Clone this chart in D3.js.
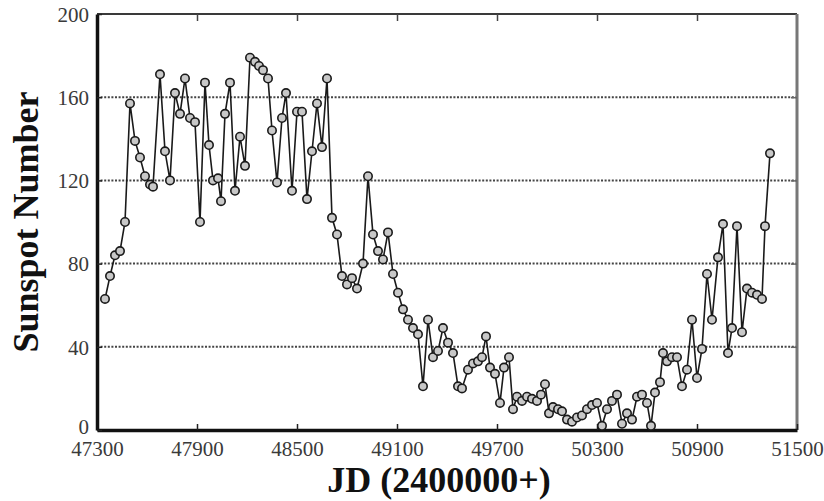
<!DOCTYPE html>
<html>
<head>
<meta charset="utf-8">
<script src="https://cdn.jsdelivr.net/npm/d3@7"></script>
<style>
  html, body { margin: 0; padding: 0; background: #fff; }
  svg { display: block; }
  .tick-label { font-family: "Liberation Serif", "DejaVu Serif", serif; font-size: 21px; fill: #3a3a3a; }
  .title { font-family: "Liberation Serif", "DejaVu Serif", serif; font-size: 36px; font-weight: bold; fill: #111; }
</style>
</head>
<body>
<div id="chart"></div>
<script>
// Julian dates (minus 2400000) and sunspot numbers
const jd = [
  47348, 47378, 47408, 47438, 47468, 47498, 47528, 47558, 47588, 47618,
  47636, 47678, 47708, 47738, 47768, 47798, 47828, 47858, 47888, 47918,
  47948, 47972, 47996, 48026, 48044, 48068, 48098, 48128, 48158, 48188,
  48218, 48248, 48272, 48296, 48326, 48350, 48380, 48410, 48434, 48470,
  48500, 48530, 48560, 48590, 48620, 48650, 48680, 48710, 48740, 48770,
  48800, 48830, 48860, 48896, 48926, 48956, 48986, 49016, 49046, 49076,
  49106, 49136, 49166, 49196, 49226, 49256, 49286, 49316, 49346, 49376,
  49406, 49436, 49466, 49490, 49526, 49556, 49586, 49610, 49634, 49658,
  49688, 49718, 49742, 49772, 49796, 49820, 49850, 49880, 49910, 49940,
  49964, 49988, 50012, 50036, 50066, 50090, 50120, 50150, 50180, 50210,
  50240, 50270, 50300, 50330, 50360, 50390, 50420, 50450, 50480, 50510,
  50540, 50570, 50600, 50624, 50648, 50678, 50696, 50720, 50750, 50780,
  50810, 50840, 50870, 50900, 50930, 50960, 50990, 51026, 51056, 51086,
  51110, 51140, 51170, 51200, 51230, 51260, 51290, 51308, 51338
];
const sunspots = [
  63, 74, 84, 86, 100, 157, 139, 131, 122, 118,
  117, 171, 134, 120, 162, 152, 169, 150, 148, 100,
  167, 137, 120, 121, 110, 152, 167, 115, 141, 127,
  179, 177, 175, 173, 169, 144, 119, 150, 162, 115,
  153, 153, 111, 134, 157, 136, 169, 102, 94, 74,
  70, 73, 68, 80, 122, 94, 86, 82, 95, 75,
  66, 58, 53, 49, 46, 21, 53, 35, 38, 49,
  42, 37, 21, 20, 29, 32, 33, 35, 45, 30,
  27, 13, 30, 35, 10, 16, 14, 16, 15, 14,
  17, 22, 8, 11, 10, 9, 5, 4, 6, 7,
  10, 12, 13, 2, 10, 14, 17, 3, 8, 5,
  16, 17, 13, 2, 18, 23, 37, 33, 35, 35,
  21, 29, 53, 25, 39, 75, 53, 83, 99, 37,
  49, 98, 47, 68, 66, 65, 63, 98, 133
];
const xTicks = [47300, 47900, 48500, 49100, 49700, 50300, 50900, 51500];
const yTicks = [0, 40, 80, 120, 160, 200];
const gridValues = [40, 80, 120, 160];

const width = 824, height = 501;
const margin = { top: 14, right: 27, bottom: 71, left: 97 };
const innerW = width - margin.left - margin.right;
const innerH = height - margin.top - margin.bottom;

const svg = d3.select('#chart').append('svg')
  .attr('width', width)
  .attr('height', height);

const g = svg.append('g').attr('transform', `translate(${margin.left},${margin.top})`);

const x = d3.scaleLinear().domain([47300, 51500]).range([0, innerW]);
const y = d3.scaleLinear().domain([0, 200]).range([innerH, 0]);

// dotted grid
g.append('g')
  .selectAll('line')
  .data(gridValues)
  .join('line')
  .attr('x1', 0)
  .attr('x2', innerW)
  .attr('y1', (d) => y(d))
  .attr('y2', (d) => y(d))
  .attr('stroke', '#444')
  .attr('stroke-width', 2)
  .attr('stroke-dasharray', '2,1.6');

// top and right frame (lighter)
g.append('line').attr('x1', 0).attr('x2', innerW).attr('y1', 0).attr('y2', 0)
  .attr('stroke', '#3a3a3a').attr('stroke-width', 2);
g.append('line').attr('x1', innerW).attr('x2', innerW).attr('y1', 0).attr('y2', innerH)
  .attr('stroke', '#777').attr('stroke-width', 3);

// axes with inward ticks
const bottomAxis = g.append('g')
  .attr('transform', `translate(0,${innerH})`)
  .call(d3.axisBottom(x).tickValues(xTicks).tickSize(-6).tickSizeOuter(0).tickPadding(12).tickFormat(d3.format('d')));
const topAxis = g.append('g')
  .call(d3.axisTop(x).tickValues(xTicks.slice(1, -1)).tickSize(-7).tickSizeOuter(0).tickFormat(''));
const leftAxis = g.append('g')
  .call(d3.axisLeft(y).tickValues(yTicks).tickSize(-5).tickSizeOuter(0).tickPadding(8));
const rightAxis = g.append('g')
  .attr('transform', `translate(${innerW},0)`)
  .call(d3.axisRight(y).tickValues(gridValues).tickSize(-6).tickSizeOuter(0).tickFormat(''));

[bottomAxis, leftAxis].forEach((a) => {
  a.select('.domain').attr('stroke', '#111').attr('stroke-width', 3.5);
  a.selectAll('.tick line').attr('stroke', '#222').attr('stroke-width', 1.5);
  a.selectAll('.tick text').attr('class', 'tick-label').attr('fill', null);
  a.attr('font-family', null).attr('font-size', null);
});
topAxis.select('.domain').remove();
topAxis.selectAll('.tick line').attr('stroke', '#444').attr('stroke-width', 1.5);
rightAxis.select('.domain').remove();
rightAxis.selectAll('.tick line').attr('stroke', '#666').attr('stroke-width', 1.5);
leftAxis.selectAll('.tick text').attr('dy', (d) => d === 0 ? '0.15em' : '0.35em');
bottomAxis.selectAll('.tick text').attr('dy', '0.68em');

// series line
const points = jd.map((d, i) => ({ jd: d, v: sunspots[i] }));
g.append('path')
  .datum(points)
  .attr('fill', 'none')
  .attr('stroke', '#1a1a1a')
  .attr('stroke-width', 1.6)
  .attr('d', d3.line().x((d) => x(d.jd)).y((d) => y(d.v)));

// open circle markers
g.append('g')
  .selectAll('circle')
  .data(points)
  .join('circle')
  .attr('cx', (d) => x(d.jd))
  .attr('cy', (d) => y(d.v))
  .attr('r', 4.2)
  .attr('fill', '#c8c8c8')
  .attr('stroke', '#1a1a1a')
  .attr('stroke-width', 1.6);

// axis titles
svg.append('text')
  .attr('class', 'title')
  .attr('text-anchor', 'middle')
  .attr('x', 439)
  .attr('y', 492)
  .text('JD (2400000+)');

svg.append('text')
  .attr('class', 'title')
  .attr('text-anchor', 'middle')
  .attr('transform', 'translate(38,222) rotate(-90)')
  .text('Sunspot Number');
</script>
</body>
</html>
